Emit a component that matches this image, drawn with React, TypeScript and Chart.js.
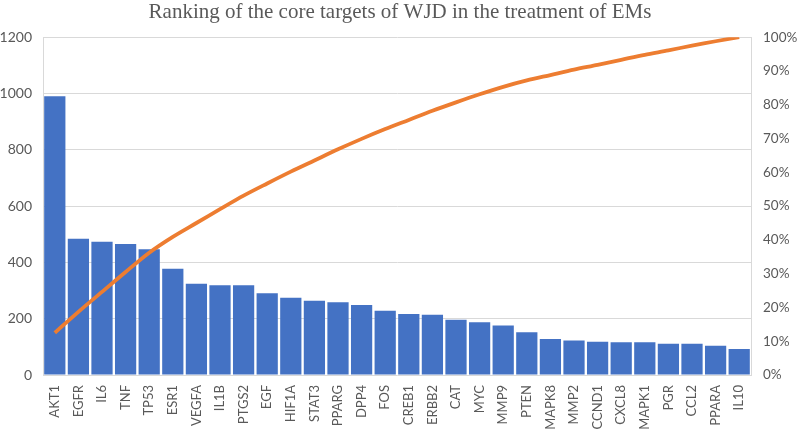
import React, { useEffect, useRef } from "react";
import { Chart, registerables } from "chart.js";

Chart.register(...registerables);

const categories = [
  "AKT1", "EGFR", "IL6", "TNF", "TP53", "ESR1", "VEGFA", "IL1B", "PTGS2", "EGF",
  "HIF1A", "STAT3", "PPARG", "DPP4", "FOS", "CREB1", "ERBB2", "CAT", "MYC", "MMP9",
  "PTEN", "MAPK8", "MMP2", "CCND1", "CXCL8", "MAPK1", "PGR", "CCL2", "PPARA", "IL10",
];

const degreeValues = [
  990, 484, 473, 465, 447, 377, 324, 319, 319, 290,
  274, 264, 258, 249, 228, 217, 214, 196, 187, 176,
  152, 128, 123, 118, 116, 116, 111, 111, 104, 92,
];

const cumulativePercent = [
  12.5, 18.7, 24.6, 30.5, 36.2, 40.9, 45.0, 49.1, 53.1, 56.7,
  60.2, 63.5, 66.8, 69.9, 72.8, 75.5, 78.2, 80.7, 83.1, 85.3,
  87.2, 88.8, 90.4, 91.8, 93.3, 94.8, 96.1, 97.5, 98.8, 100,
];

const leftTicks = [0, 200, 400, 600, 800, 1000, 1200];
const rightTicks = [0, 10, 20, 30, 40, 50, 60, 70, 80, 90, 100];

const titleText = "Ranking of the core targets of WJD in the treatment of EMs";

export default function App() {
  const ref = useRef<HTMLCanvasElement | null>(null);

  useEffect(() => {
    if (!ref.current) return;
    const gray = "#595959";
    const grid = "#d9d9d9";
    const sans = 'Lato, "Open Sans", sans-serif';
    const chart = new Chart(ref.current, {
      type: "bar",
      data: {
        labels: categories,
        datasets: [
          {
            type: "line",
            label: "Cumulative %",
            data: cumulativePercent,
            yAxisID: "yR",
            borderColor: "#ED7D31",
            backgroundColor: "#ED7D31",
            borderWidth: 3.8,
            pointRadius: 0,
            tension: 0.3,
            order: 0,
          } as any,
          {
            type: "bar",
            label: "Degree",
            data: degreeValues,
            yAxisID: "y",
            backgroundColor: "#4472C4",
            barPercentage: 0.9,
            categoryPercentage: 1,
            order: 1,
          },
        ],
      },
      options: {
        responsive: false,
        animation: false,
        layout: { padding: 0 },
        plugins: {
          legend: { display: false },
          tooltip: { enabled: false },
          title: {
            display: true,
            text: titleText,
            color: gray,
            font: { family: '"Liberation Serif", "DejaVu Serif", serif', size: 21, weight: "normal" },
            padding: { top: 0, bottom: 12 },
          },
        },
        scales: {
          x: {
            grid: { display: false, drawTicks: false },
            border: { display: false },
            ticks: {
              color: gray,
              font: { family: sans, size: 13 },
              minRotation: 90,
              maxRotation: 90,
              padding: 10,
              autoSkip: false,
            },
            afterFit: (s: any) => { s.height = 59; },
          },
          y: {
            position: "left",
            min: 0,
            max: 1200,
            afterBuildTicks: (s: any) => { s.ticks = leftTicks.map((v) => ({ value: v })); },
            grid: { color: grid, drawTicks: false, lineWidth: 1 },
            border: { display: true, color: grid },
            ticks: {
              color: gray,
              font: { family: sans, size: 14 },
              padding: 11,
              callback: (v: any) => String(v),
            },
            afterFit: (s: any) => { s.width = 43; },
          },
          yR: {
            position: "right",
            min: 0,
            max: 100,
            afterBuildTicks: (s: any) => { s.ticks = rightTicks.map((v) => ({ value: v })); },
            grid: { display: false, drawTicks: false },
            border: { display: true, color: grid },
            ticks: {
              color: gray,
              font: { family: sans, size: 13.5 },
              padding: 12,
              callback: (v: any) => v + "%",
            },
            afterFit: (s: any) => { s.width = 49; },
          },
        },
      },
    });
    return () => chart.destroy();
  }, []);

  return (
    <div style={{ position: "absolute", left: 0, top: 0, width: 800, height: 434, background: "#fff" }}>
      <canvas ref={ref} width={800} height={434} style={{ display: "block" }} />
    </div>
  );
}
